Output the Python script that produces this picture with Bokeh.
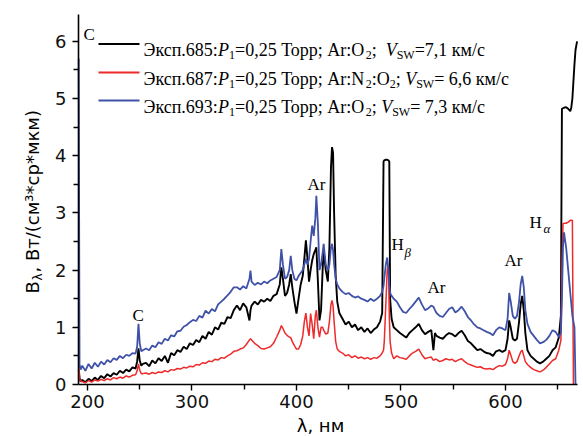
from bokeh.plotting import figure
from bokeh.models import Range1d, Label, ColumnDataSource, FixedTicker, LinearAxis
from bokeh.embed import file_html
from bokeh.resources import INLINE

nan = float("nan")

# ---------------- data ----------------
wavelength = [
    191.6, 192.4, 193.5, 195, 198, 201, 204, 207, 210, 213, 216, 219, 222, 225, 228, 231, 234, 237, 240, 243, 246, 247.5, 248.8, 250, 251.5, 253,
    256, 259, 262, 265, 268, 271, 274, 277, 280, 283, 286, 289, 292, 295, 298, 301, 304, 307, 310, 313, 316, 319, 322, 325, 328, 331, 334, 337, 340,
    343, 346, 349, 352, 355, 356, 357, 360, 363, 366, 369, 372, 375, 378, 381, 384, 385.5, 387, 389, 391, 393, 394.5, 396, 398, 400,
    402, 404, 406, 407.5, 409, 410.5, 412, 413.5, 415, 416.5, 418, 419, 420.5, 422, 423.5, 425, 426, 428, 430, 431.5, 433, 434, 435, 436, 437.5, 439, 441,
    444, 447, 450, 453, 456, 459, 462, 465, 468, 471, 474, 477, 480, 482, 483.3, 484, 485.5, 486.8, 488, 488.8, 489.6, 491, 493, 496, 499,
    502, 505, 508, 511, 514, 517, 520, 523, 526, 529, 531, 532.5, 534, 537, 540, 543, 546, 549, 552, 555, 558, 561, 564, 567, 570,
    573, 576, 579, 582, 585, 588, 591, 594, 597, 600, 602, 603.5, 605, 607, 609, 611, 613, 614.5, 616, 617.5, 619, 621, 624, 627, 630,
    633, 636, 639, 642, 645, 648, 651, 653, 654, 655, 656, 658, 660, 662, 663, 664, 665, 666, 667, 668.5,
]

black_685 = [
    0.25, 0.12, 0.05, 0.08, 0.04, 0.10, 0.06, 0.12, 0.08, 0.15, 0.11, 0.18, 0.14, 0.20, 0.17, 0.24, 0.20, 0.26, 0.23, 0.30, 0.28, 0.40, 0.63, 0.42, 0.33, 0.36,
    0.38, 0.32, 0.42, 0.37, 0.46, 0.41, 0.50, 0.38, 0.55, 0.51, 0.60, 0.57, 0.66, 0.62, 0.72, 0.69, 0.78, 0.74, 0.85, 0.80, 0.92, 0.87, 1.00, 0.96, 1.08, 1.06, 1.18, 1.16, 1.30,
    1.38, 1.30, 1.42, 1.35, 1.12, 1.30, 1.38, 1.45, 1.40, 1.48, 1.45, 1.50, 1.46, 1.55, 1.58, 1.75, 2.05, 1.85, 1.55, 1.60, 1.75, 1.93, 1.70, 1.45, 1.24,
    1.50, 1.75, 1.90, 2.20, 2.52, 2.20, 1.80, 2.00, 2.17, 2.28, 2.35, 2.40, 1.80, 1.12, 1.30, 2.00, 2.34, 2.00, 1.80, 2.40, 3.80, 4.15, 4.05, 3.00, 1.90, 1.45, 1.25,
    1.15, 1.05, 1.10, 1.00, 1.05, 0.95, 1.00, 0.92, 0.98, 0.90, 0.96, 1.00, 1.10, 1.25, 3.90, 3.92, 3.93, 3.93, 3.92, 3.90, 1.50, 1.15, 1.00, 0.95, 0.90,
    0.86, 0.82, 0.90, 0.95, 1.00, 1.06, 0.95, 0.88, 0.92, 0.95, 0.60, 0.90, 0.85, 0.82, 0.80, 0.86, 0.90, 0.88, 0.84, 0.90, 0.94, 0.86, 0.76, 0.72, 0.66,
    0.60, 0.62, 0.58, 0.55, 0.54, 0.50, 0.58, 0.60, 0.57, 0.60, 0.80, 1.12, 1.00, 0.80, 0.77, 0.80, 1.10, 1.40, 1.55, 1.30, 0.90, 0.60, 0.50, 0.45, 0.40,
    0.37, 0.40, 0.45, 0.50, 0.60, 0.65, 0.82, 1.20, 4.82, 4.83, 4.84, 4.85, 4.82, 4.78, 4.85, 5.00, 5.30, 5.60, 5.85, 6.00,
]

red_687 = [
    0.47, 0.10, 0.06, 0.05, 0.03, 0.07, 0.04, 0.08, 0.06, 0.09, 0.07, 0.10, 0.08, 0.12, 0.10, 0.13, 0.11, 0.15, 0.13, 0.16, 0.17, 0.24, 0.36, 0.25, 0.19, 0.19,
    0.20, 0.18, 0.21, 0.19, 0.22, 0.21, 0.24, 0.22, 0.26, 0.25, 0.28, 0.27, 0.30, 0.29, 0.32, 0.31, 0.35, 0.34, 0.38, 0.37, 0.41, 0.40, 0.44, 0.43, 0.47, 0.46, 0.50, 0.53, 0.58,
    0.59, 0.62, 0.64, 0.70, 0.78, 0.80, 0.78, 0.72, 0.68, 0.63, 0.62, 0.64, 0.66, 0.72, 0.83, 0.95, 1.03, 0.98, 0.90, 0.86, 0.83, 0.82, 0.75, 0.68, 0.62,
    0.62, 0.70, 0.85, 1.10, 1.25, 1.00, 0.85, 1.24, 1.05, 0.80, 1.20, 1.30, 1.00, 0.83, 1.00, 1.00, 0.95, 0.88, 0.90, 1.10, 1.40, 1.47, 1.38, 1.10, 0.75, 0.62, 0.58,
    0.55, 0.50, 0.52, 0.47, 0.50, 0.46, 0.48, 0.45, 0.47, 0.44, 0.47, 0.46, 0.50, 0.55, 0.60, 0.75, 1.40, 2.00, 2.08, 1.20, 0.75, 0.55, 0.45, 0.50, 0.47,
    0.46, 0.44, 0.50, 0.55, 0.58, 0.62, 0.52, 0.45, 0.47, 0.48, 0.42, 0.44, 0.44, 0.40, 0.42, 0.45, 0.43, 0.44, 0.40, 0.43, 0.45, 0.40, 0.36, 0.34, 0.32,
    0.30, 0.31, 0.28, 0.27, 0.28, 0.26, 0.30, 0.33, 0.32, 0.35, 0.45, 0.60, 0.52, 0.40, 0.37, 0.40, 0.50, 0.57, 0.60, 0.50, 0.40, 0.35, 0.30, 0.26, 0.24,
    0.22, 0.25, 0.30, 0.36, 0.42, 0.45, 0.60, 0.77, 2.00, 2.81, 2.82, 2.82, 2.84, 2.87, 2.87, 2.87, 0.00, nan, nan, nan,
]

blue_693 = [
    5.70, 0.35, 0.26, 0.33, 0.24, 0.36, 0.28, 0.38, 0.31, 0.40, 0.35, 0.43, 0.39, 0.46, 0.43, 0.50, 0.46, 0.52, 0.50, 0.55, 0.54, 0.66, 1.06, 0.72, 0.58, 0.60,
    0.63, 0.60, 0.68, 0.65, 0.74, 0.71, 0.80, 0.77, 0.86, 0.84, 0.93, 0.94, 1.01, 1.04, 1.09, 1.13, 1.11, 1.20, 1.17, 1.29, 1.24, 1.32, 1.28, 1.40, 1.45, 1.50, 1.56, 1.62, 1.70,
    1.70, 1.66, 1.72, 1.68, 1.85, 1.99, 1.80, 1.74, 1.78, 1.75, 1.80, 1.77, 1.82, 1.85, 1.88, 2.00, 2.37, 2.10, 1.85, 1.88, 2.00, 2.25, 2.00, 1.85, 1.82,
    1.90, 1.95, 2.00, 2.10, 2.20, 2.10, 2.20, 2.50, 2.78, 2.60, 2.90, 3.30, 2.80, 2.00, 2.10, 2.30, 2.46, 2.10, 2.00, 2.10, 2.40, 2.46, 2.35, 2.10, 1.85, 1.75, 1.68,
    1.62, 1.58, 1.60, 1.55, 1.52, 1.54, 1.50, 1.48, 1.45, 1.50, 1.46, 1.50, 1.55, 1.62, 1.72, 1.85, 2.10, 2.22, 2.00, 1.75, 1.60, 1.55, 1.50, 1.45, 1.35,
    1.27, 1.25, 1.32, 1.38, 1.45, 1.52, 1.40, 1.30, 1.33, 1.38, 1.36, 1.30, 1.25, 1.20, 1.18, 1.25, 1.32, 1.35, 1.26, 1.30, 1.36, 1.28, 1.18, 1.12, 1.05,
    1.00, 0.98, 0.95, 0.92, 0.90, 0.86, 0.95, 1.00, 0.98, 0.95, 1.15, 1.60, 1.45, 1.20, 1.15, 1.20, 1.45, 1.75, 1.90, 1.70, 1.30, 1.06, 0.92, 0.85, 0.78,
    0.72, 0.74, 0.78, 0.85, 0.95, 0.92, 0.83, 0.90, 1.50, 2.40, 2.66, 2.40, 2.00, 1.60, 1.40, 1.20, 1.10, 1.00, 0.00, nan,
]

assert len(wavelength) == len(black_685) == len(red_687) == len(blue_693), (
    len(wavelength), len(black_685), len(red_687), len(blue_693))

x_major_ticks = [200, 300, 400, 500, 600]
x_minor_ticks = [250, 350, 450, 550, 650]
y_major_ticks = [0, 1, 2, 3, 4, 5, 6]
y_minor_ticks = [0.5, 1.5, 2.5, 3.5, 4.5, 5.5]

# ---------------- layout ----------------
W, H = 583, 436
# pixel box of the axes (left, right, top, bottom) and its data limits
FL, FR, FT, FB = 78, 577, 14, 384
X0, X1 = 191.4, 668.9
Y0, Y1 = 0.0, 6.47

BLACK = "#000000"
RED = "#ee2a2a"
BLUE = "#3f52a8"


def X(px):
    return X0 + (px - FL) / (FR - FL) * (X1 - X0)


def Y(py):
    return Y0 + (FB - py) / (FB - FT) * (Y1 - Y0)


# the frame covers the whole canvas; the axes sit at fixed locations inside it
p = figure(width=W, height=H, x_range=Range1d(X(0), X(W)), y_range=Range1d(Y(H), Y(0)),
           output_backend="svg", toolbar_location=None,
           x_axis_location=None, y_axis_location=None,
           min_border=0, min_border_left=0, min_border_right=0,
           min_border_top=0, min_border_bottom=0)
p.grid.visible = False
p.outline_line_color = None
p.background_fill_color = "white"
p.border_fill_color = "white"

xaxis = LinearAxis(fixed_location=Y0, bounds=(X0, X1),
                   ticker=FixedTicker(ticks=x_major_ticks, minor_ticks=x_minor_ticks))
yaxis = LinearAxis(fixed_location=X0, bounds=(Y0, Y1),
                   ticker=FixedTicker(ticks=y_major_ticks, minor_ticks=y_minor_ticks))
for ax in (xaxis, yaxis):
    ax.axis_line_width = 1.6
    ax.axis_line_color = "black"
    ax.major_tick_line_width = 1.4
    ax.minor_tick_line_width = 1.4
    ax.major_tick_in = 0
    ax.major_tick_out = 6
    ax.minor_tick_in = 0
    ax.minor_tick_out = 5
    ax.major_label_text_font = "DejaVu Sans"
    ax.major_label_text_font_size = "18px"
    ax.major_label_text_color = "#111111"
xaxis.major_label_standoff = 4
yaxis.major_label_standoff = 6
p.add_layout(xaxis, "below")
p.add_layout(yaxis, "left")

src = ColumnDataSource(dict(wl=wavelength, b=black_685, r=red_687, u=blue_693))
p.line("wl", "b", source=src, line_color=BLACK, line_width=1.9)
p.line("wl", "r", source=src, line_color=RED, line_width=1.5)
p.line("wl", "u", source=src, line_color=BLUE, line_width=1.8)


def lab(px, py, text, size=17, font="Liberation Serif", style="normal",
        align="left", angle=0):
    p.add_layout(Label(x=X(px), y=Y(py), text=text, text_font=font,
                       text_font_size=f"{size}px", text_font_style=style,
                       text_align=align, text_baseline="alphabetic",
                       angle=angle, angle_units="deg", text_color="black"))


# legend swatches
p.segment(x0=[X(98)] * 3, x1=[X(139)] * 3,
          y0=[Y(43.5), Y(72), Y(100)], y1=[Y(43.5), Y(72), Y(100)],
          line_color=[BLACK, RED, BLUE], line_width=2)

# approximate Times/Liberation Serif advance widths (1/1000 em) for flowing rich text
ADV = {" ": 250, ",": 250, ".": 250, ":": 278, ";": 278, "=": 564, "/": 278,
       "A": 722, "r": 333, "O": 722, "N": 722, "S": 556, "W": 944, "P": 611, "V": 611,
       "Э": 667, "к": 500, "с": 444, "п": 500, "Т": 611, "о": 500, "р": 500, "м": 622}


def width(t, size):
    return sum(ADV.get(c, 500) for c in t) * size / 1000.0


LEG = 18
SUB = 12
rows = [
    (49.5, ["Эксп.685:", ("P", "i"), ("1", "s"), "=0,25 Торр; Ar:O", ("2", "s"), " ; ",
            ("V", "i"), ("SW", "s"), "=7,1 км/с"]),
    (78, ["Эксп.687:", ("P", "i"), ("1", "s"), "=0,25 Торр; Ar:N", ("2", "s"), ":O", ("2", "s"),
          "; ", ("V", "i"), ("SW", "s"), "= 6,6 км/с"]),
    (106.5, ["Эксп.693:", ("P", "i"), ("1", "s"), "=0,25 Торр; Ar:O", ("2", "s"), "; ",
             ("V", "i"), ("SW", "s"), "= 7,3 км/с"]),
]
for base, pieces in rows:
    px = 143.0
    for piece in pieces:
        t, kind = (piece, "n") if isinstance(piece, str) else piece
        if kind == "s":
            lab(px, base + 5, t, size=SUB)
            px += width(t, SUB)
        elif kind == "i":
            lab(px, base, t, size=LEG, style="italic")
            px += width(t, LEG)
        else:
            lab(px, base, t, size=LEG)
            px += width(t, LEG)

# spectral line annotations
lab(83, 34, "C")
lab(132, 315, "C")
lab(307, 184, "Ar")
lab(391, 244, "H")
lab(404, 252, "β", size=13, style="italic")
lab(427, 287, "Ar")
lab(504, 260, "Ar")
lab(529, 222, "H")
lab(543, 228, "α", size=13, style="italic")

# axis titles
lab(320, 425, "λ, нм", size=18, font="DejaVu Sans", align="center")
lab(32, 293, "B", size=18, font="DejaVu Sans", angle=90)
lab(37, 280, "λ", size=12, font="DejaVu Sans", angle=90)
lab(32, 272, ", Вт/(см³*ср*мкм)", size=18, font="DejaVu Sans", angle=90)

open("out.html", "w").write(file_html(p, INLINE))
